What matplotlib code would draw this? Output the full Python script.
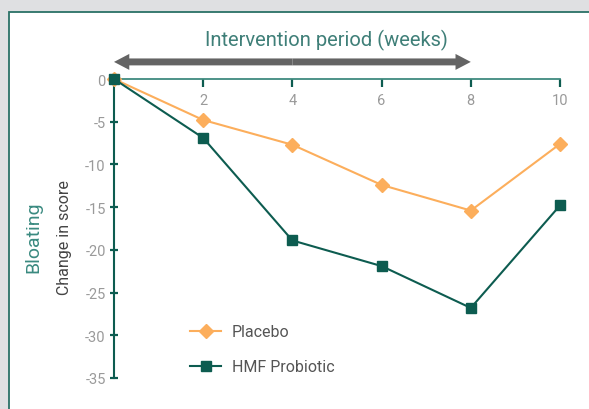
import matplotlib
matplotlib.use("Agg")
import matplotlib.pyplot as plt
from matplotlib.patches import Rectangle, FancyArrowPatch

weeks = [0, 2, 4, 6, 8, 10]
placebo = [0, -4.8, -7.7, -12.4, -15.4, -7.6]
hmf = [0, -6.9, -18.9, -21.9, -26.8, -14.8]
xticks = [2, 4, 6, 8, 10]
yticks = [0, -5, -10, -15, -20, -25, -30, -35]

TEAL = "#0d5c50"
ORANGE = "#fcae5c"
GREY_TXT = "#9a9a9a"
plt.rcParams['font.family'] = ['Roboto', 'DejaVu Sans']

fig = plt.figure(figsize=(5.89, 4.10), dpi=100)
fig.patch.set_facecolor("#dfe0e2")
W, H = 589, 410
panel = Rectangle((8.5 / W, -0.1), 1.2, 1 - 12.5 / H + 0.1, transform=fig.transFigure,
                  facecolor="white", edgecolor="#2a7166", lw=1.3, zorder=-10)
fig.patches.append(panel)

ax = fig.add_axes([114 / W, 1 - 379 / H, (560 - 114) / W, (379 - 80) / H])
ax.set_zorder(2)
ax.set_facecolor("none")
ax.plot(weeks, placebo, color=ORANGE, lw=1.5, marker="D", ms=7, label="Placebo", zorder=3, clip_on=False)
ax.plot(weeks, hmf, color=TEAL, lw=1.5, marker="s", ms=6.5, label="HMF Probiotic", zorder=4, clip_on=False)

ax.set_xlim(0, 10)
ax.set_ylim(-35, 0)
for s in ["right", "bottom"]:
    ax.spines[s].set_visible(False)
ax.spines["top"].set_color("#3f8a7f")
ax.spines["top"].set_linewidth(1.3)
ax.spines["left"].set_color(TEAL)
ax.spines["left"].set_linewidth(1.5)
ax.xaxis.tick_top()
ax.set_xticks(xticks)
ax.set_xticklabels([str(t) for t in xticks])
ax.tick_params(axis="x", direction="in", length=6, width=1.6, color=TEAL,
               labeltop=True, labelbottom=False, pad=-20, labelsize=10.5, labelcolor=GREY_TXT)
ax.set_yticks(yticks)
ax.set_yticklabels([str(t) for t in yticks])
ax.tick_params(axis="y", direction="inout", length=6, width=1.6, color=TEAL,
               labelsize=10.5, labelcolor=GREY_TXT, pad=3)

for (a, b) in [(4, 0), (4, 8)]:
    arr = FancyArrowPatch((a, 2.0), (b, 2.0), transform=ax.transData, clip_on=False,
                          arrowstyle="simple,head_length=1.1,head_width=1.15,tail_width=0.5",
                          mutation_scale=10, color="#646464", lw=0, zorder=5,
                          shrinkA=0, shrinkB=0)
    ax.add_patch(arr)

fig.text(326 / W, 1 - 40 / H, "Intervention period (weeks)", ha="center", va="center",
         fontsize=14.5, color="#3f7f78")
fig.text(33 / W, 1 - 237 / H, "Bloating", rotation=90, ha="center", va="center",
         fontsize=14, color="#3a8a80")
fig.text(65 / W, 1 - 238 / H, "Change in score", rotation=90, ha="center", va="center",
         fontsize=11.5, color="#444444")

ax.legend(loc="upper left", bbox_to_anchor=(176 / W, 1 - 311 / H), bbox_transform=fig.transFigure,
          frameon=False, fontsize=11.5, handlelength=1.9, labelspacing=1.25, handletextpad=0.7,
          labelcolor="#555555")

fig.savefig("out.png", dpi=100, facecolor=fig.get_facecolor())
